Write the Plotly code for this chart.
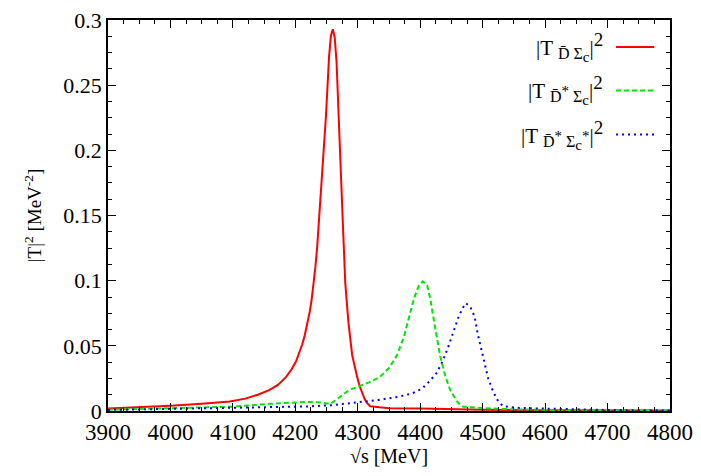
import plotly.graph_objects as go

# ---- data ----
red_x = [3900, 3950, 4000, 4050, 4095, 4120, 4140, 4158, 4172, 4185, 4194, 4201, 4207,
         4211, 4215, 4219, 4223, 4226, 4229, 4232, 4235, 4237, 4241, 4245, 4249, 4254,
         4257, 4260, 4263, 4266, 4269, 4273, 4276, 4280, 4285, 4291, 4295, 4299, 4303,
         4307, 4311, 4315, 4320, 4335, 4350, 4400, 4450, 4500, 4600, 4700, 4800]
red_y = [0.0020, 0.0028, 0.0040, 0.0055, 0.0073, 0.0095, 0.0125, 0.016, 0.020, 0.026,
         0.032, 0.038, 0.045, 0.051, 0.058, 0.066, 0.076, 0.085, 0.097, 0.110, 0.126,
         0.140, 0.165, 0.195, 0.226, 0.272, 0.288, 0.293, 0.287, 0.268, 0.235, 0.190,
         0.145, 0.098, 0.068, 0.043, 0.034, 0.026, 0.019, 0.0135, 0.0092, 0.006, 0.0036,
         0.0028, 0.0022, 0.0019, 0.0013, 0.0009, 0.0006, 0.0004, 0.0003]

green_x = [3900, 4000, 4100, 4158, 4200, 4222, 4240, 4256, 4265, 4286, 4318, 4335, 4350,
           4363, 4374, 4382, 4390, 4398, 4404, 4411, 4416, 4421, 4427, 4432, 4440, 4448,
           4459, 4466, 4493, 4546, 4600, 4700, 4800]
green_y = [0.0010, 0.0020, 0.0033, 0.0055, 0.0066, 0.0070, 0.0065, 0.0053, 0.0085, 0.016,
           0.022, 0.026, 0.033, 0.043, 0.057, 0.072, 0.0865, 0.0965, 0.0995, 0.0965, 0.0865,
           0.072, 0.057, 0.042, 0.027, 0.016, 0.0073, 0.0035, 0.0024, 0.0013, 0.0008,
           0.0005, 0.0003]

blue_x = [3900, 4000, 4100, 4158, 4220, 4259, 4290, 4318, 4334, 4366, 4387, 4403, 4416,
          4427, 4437, 4445, 4453, 4461, 4468, 4473, 4480, 4487, 4492, 4498, 4503, 4509,
          4517, 4525, 4533, 4557, 4600, 4700, 4800]
blue_y = [0.0008, 0.0016, 0.0025, 0.0030, 0.0035, 0.0045, 0.006, 0.0078, 0.0085, 0.011,
          0.0135, 0.0172, 0.0234, 0.0296, 0.0395, 0.0494, 0.0605, 0.0717, 0.079, 0.0828,
          0.080, 0.0726, 0.0593, 0.047, 0.0345, 0.0247, 0.0147, 0.0073, 0.0036, 0.0024,
          0.0018, 0.0008, 0.0004]

x_ticks = [3900, 4000, 4100, 4200, 4300, 4400, 4500, 4600, 4700, 4800]
y_ticks = [0, 0.05, 0.1, 0.15, 0.2, 0.25, 0.3]
y_tick_text = ["0", "0.05", "0.1", "0.15", "0.2", "0.25", "0.3"]

SUB = "<span style='font-size:16px'>"
SUBC = "<span style='font-size:15px'>"
SUP2 = "<sup><span style='font-size:19px'>2</span></sup>"
names = [
    "|T <sub>" + SUB + "D̄ Σ</span><sub>" + SUBC + "c</span></sub></sub>|" + SUP2,
    "|T <sub>" + SUB + "D̄</span><sup>" + SUBC + "*</span></sup>" + SUB + " Σ</span><sub>"
    + SUBC + "c</span></sub></sub>|" + SUP2,
    "|T <sub>" + SUB + "D̄</span><sup>" + SUBC + "*</span></sup>" + SUB + " Σ</span><sub>"
    + SUBC + "c</span></sub><sup>" + SUBC + "*</span></sup></sub>|" + SUP2,
]
colors = ["#ff0000", "#00e600", "#0000ff"]
dashes = ["solid", "5px,3px", "2px,4px"]

FONT = "Liberation Serif"

fig = go.Figure()
for xs, ys, nm, c, d in zip([red_x, green_x, blue_x], [red_y, green_y, blue_y],
                            names, colors, dashes):
    fig.add_trace(go.Scatter(x=xs, y=ys, mode="lines", name=nm,
                             line=dict(color=c, width=2, dash=d), showlegend=False))

# custom gnuplot-style key: text on the left, sample on the right
row_y = [0.931, 0.820, 0.707]
for nm, c, d, yy in zip(names, colors, dashes, row_y):
    fig.add_annotation(x=0.885, y=yy, xref="paper", yref="paper", text=nm,
                       showarrow=False, xanchor="right", yanchor="middle",
                       font=dict(family=FONT, size=21, color="black"))
    fig.add_shape(type="line", xref="paper", yref="paper", x0=0.904, x1=0.972,
                  y0=yy, y1=yy, line=dict(color=c, width=2, dash=d))

axis_common = dict(showline=True, linecolor="black", linewidth=1.5, mirror="allticks",
                   ticks="inside", ticklen=8, tickwidth=1, tickcolor="black",
                   showgrid=False, zeroline=False, ticklabeloverflow="allow")

fig.update_xaxes(range=[3900, 4800], tickvals=x_ticks,
                 tickfont=dict(family=FONT, size=23, color="black"),
                 minor=dict(ticks="inside", ticklen=4, dtick=25, tickcolor="black",
                            showgrid=False),
                 title=dict(text="√s [MeV]", font=dict(family=FONT, size=20, color="black"),
                            standoff=4),
                 **axis_common)
fig.update_yaxes(range=[0, 0.3001], tickvals=y_ticks, ticktext=y_tick_text,
                 tickfont=dict(family=FONT, size=22, color="black"),
                 minor=dict(ticks="inside", ticklen=4, dtick=0.0125, tickcolor="black",
                            showgrid=False),
                 title=dict(text="|T|<sup>2</sup> [MeV<sup>-2</sup>]",
                            font=dict(family=FONT, size=19, color="black"), standoff=17),
                 **axis_common)

fig.update_layout(width=701, height=476, margin=dict(l=108, r=29, t=8, b=65),
                  plot_bgcolor="white", paper_bgcolor="white",
                  font=dict(family=FONT, color="black"))

fig.write_html("out.html", config={"displayModeBar": False},
               post_script="document.body.style.margin='0';")
